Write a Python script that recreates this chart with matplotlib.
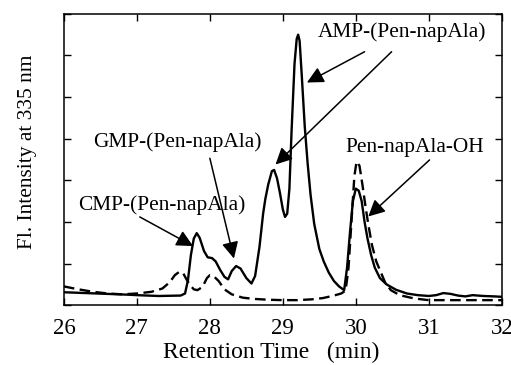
import matplotlib.pyplot as plt

# Retention time (min) and fluorescence (arbitrary units, 7 ticks full scale)
t_solid = [26.0, 26.3, 26.6, 26.9, 27.0, 27.3, 27.6, 27.66, 27.70, 27.74, 27.78, 27.82,
           27.86, 27.92, 27.97, 28.03, 28.08, 28.14, 28.20, 28.25, 28.30, 28.36, 28.42,
           28.50, 28.57, 28.62, 28.68, 28.73, 28.76, 28.80, 28.85, 28.88, 28.92, 28.96,
           29.00, 29.03, 29.06, 29.09, 29.12, 29.16, 29.19, 29.21, 29.23, 29.26, 29.30,
           29.34, 29.38, 29.43, 29.50, 29.56, 29.63, 29.70, 29.77, 29.84, 29.88, 29.92,
           29.96, 30.00, 30.04, 30.08, 30.12, 30.16, 30.21, 30.26, 30.33, 30.42, 30.55,
           30.7, 30.85, 31.0, 31.1, 31.2, 31.3, 31.4, 31.5, 31.6, 31.75, 31.9, 32.0]
fl_solid = [0.31, 0.29, 0.27, 0.25, 0.24, 0.22, 0.23, 0.28, 0.6, 1.2, 1.6, 1.73,
            1.62, 1.3, 1.15, 1.13, 1.05, 0.85, 0.68, 0.62, 0.82, 0.94, 0.88,
            0.65, 0.52, 0.7, 1.4, 2.2, 2.55, 2.9, 3.22, 3.25, 3.05, 2.7,
            2.3, 2.12, 2.2, 2.8, 4.2, 5.8, 6.4, 6.5, 6.35, 5.5, 4.3,
            3.4, 2.65, 1.95, 1.35, 1.05, 0.78, 0.58, 0.45, 0.36, 0.9, 1.75,
            2.5, 2.8, 2.75, 2.5, 2.0, 1.6, 1.2, 0.9, 0.65, 0.5, 0.37,
            0.28, 0.24, 0.22, 0.24, 0.29, 0.27, 0.23, 0.21, 0.24, 0.22, 0.21, 0.20]

t_dash = [26.0, 26.2, 26.4, 26.6, 26.8, 27.0, 27.2, 27.35, 27.45, 27.52, 27.58, 27.63,
          27.68, 27.73, 27.78, 27.83, 27.9, 27.96, 28.0, 28.05, 28.12, 28.2, 28.3,
          28.45, 28.6, 28.8, 29.0, 29.2, 29.4, 29.55, 29.7, 29.8, 29.86, 29.9, 29.94,
          29.98, 30.01, 30.05, 30.09, 30.13, 30.17, 30.22, 30.28, 30.34, 30.4, 30.48,
          30.6, 30.8, 31.0, 31.5, 32.0]
fl_dash = [0.45, 0.38, 0.32, 0.28, 0.26, 0.28, 0.32, 0.40, 0.55, 0.72, 0.80, 0.78,
           0.62, 0.48, 0.38, 0.36, 0.44, 0.65, 0.72, 0.70, 0.58, 0.38, 0.26,
           0.18, 0.15, 0.13, 0.12, 0.12, 0.14, 0.17, 0.23, 0.28, 0.35, 0.9, 2.0,
           3.1, 3.45, 3.35, 2.9, 2.4, 1.95, 1.45, 1.05, 0.8, 0.55, 0.36,
           0.24, 0.16, 0.12, 0.12, 0.12]

# label, text position, arrow tails -> heads
labels = ['AMP-(Pen-napAla)', 'GMP-(Pen-napAla)', 'CMP-(Pen-napAla)', 'Pen-napAla-OH']
label_pos = [(30.63, 6.56), (27.56, 3.92), (27.34, 2.40), (30.81, 3.80)]
arrows = [((30.12, 6.09), (29.33, 5.35)),
          ((30.49, 6.09), (28.90, 3.38)),
          ((28.00, 3.53), (28.33, 1.12)),
          ((27.04, 2.12), (27.77, 1.42)),
          ((31.01, 3.49), (30.17, 2.13))]

plt.rcParams['font.family'] = ['Liberation Serif', 'DejaVu Serif']

fig = plt.figure(figsize=(5.11, 3.65), dpi=100)
ax = fig.add_axes([0.125, 0.164, 0.857, 0.798])

ax.plot(t_solid, fl_solid, color='black', lw=1.7)
ax.plot(t_dash, fl_dash, color='black', lw=1.7, linestyle=(0, (4.5, 2.3)))

for lab, (x, y) in zip(labels, label_pos):
    ax.text(x, y, lab, fontsize=15.4, ha='center', va='center')

for tail, head in arrows:
    ax.annotate('', xy=head, xytext=tail,
                arrowprops=dict(arrowstyle='-|>,head_length=1.0,head_width=0.5',
                                color='black', lw=1.1, shrinkA=0, shrinkB=0))

ax.set_xlim(26, 32)
ax.set_ylim(0, 7)
ax.set_xticks(range(26, 33))
ax.set_yticks(range(0, 8))
ax.set_yticklabels([])
ax.tick_params(direction='in', top=True, right=True, length=5, width=1, labelsize=16.5)
ax.tick_params(axis='x', pad=9)
for s in ax.spines.values():
    s.set_linewidth(1.1)

ax.set_xlabel('Retention Time   (min)', fontsize=17)
ax.set_ylabel('Fl. Intensity at 335 nm', fontsize=15.4)
ax.xaxis.set_label_coords(0.473, -0.125)
ax.yaxis.set_label_coords(-0.062, 0.526)

plt.savefig('out.png', dpi=100)
